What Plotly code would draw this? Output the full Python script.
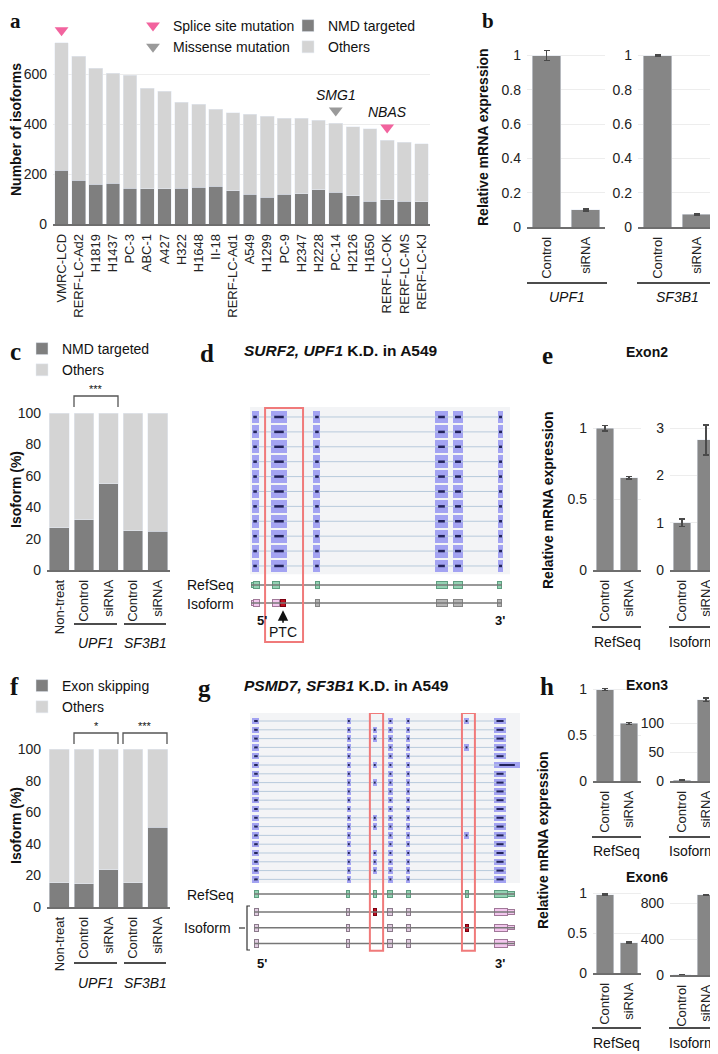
import plotly.graph_objects as go

# the page body adds an 8px margin, so the figure is drawn 8px smaller and
# all positions below are given in window pixels
OFF = 8
W, H = 718 - OFF, 1054 - OFF
SANS = "Liberation Sans, Arial, sans-serif"
SERIF = "Liberation Serif, Times New Roman, serif"

NMD_GRAY = "#7f7f7f"
OTHER_GRAY = "#d4d4d4"
BAR_GRAY = "#868686"
ERR_GRAY = "#4a4a4a"
PINK = "#f2639e"
TRI_GRAY = "#9a9a9a"
GRID = "#ededed"
AXIS = "#6e6e6e"
READ_BLUE = "#a3a3f2"
READ_DARK = "#22225a"
READ_LINE = "#b8cadc"
BOX_RED = "#f07a7a"
REF_FILL, REF_LINE = "#94d3b4", "#5e9e80"
ISO_PINK, ISO_PINK_LINE = "#f3c6ee", "#a07898"
ISO_GRAY, ISO_GRAY_LINE = "#b5b5b5", "#858585"
ISO_MAUVE, ISO_MAUVE_LINE = "#e2cde2", "#8a7a8a"
PTC_RED = "#c0101e"

# ---- panel a: isoforms per cell line
cell_lines = ["VMRC-LCD", "RERF-LC-Ad2", "H1819", "H1437", "PC-3", "ABC-1", "A427", "H322",
              "H1648", "II-18", "RERF-LC-Ad1", "A549", "H1299", "PC-9", "H2347", "H2228",
              "PC-14", "H2126", "H1650", "RERF-LC-OK", "RERF-LC-MS", "RERF-LC-KJ"]
total_counts = [725, 672, 624, 604, 595, 543, 532, 488, 480, 460, 445, 440, 431, 423, 423, 416,
                404, 389, 381, 336, 327, 321]
nmd_counts = [216, 175, 160, 163, 144, 141, 141, 144, 147, 152, 133, 119, 108, 119, 121, 137,
              128, 113, 92, 97, 92, 89]
splice_lines = ["VMRC-LCD", "RERF-LC-OK"]
splice_genes = ["UPF1", "NBAS"]
missense_lines = ["PC-14"]
missense_genes = ["SMG1"]

# ---- panel b: knock-down efficiency
treatments = ["Control", "siRNA"]
upf1_kd = [1.0, 0.10]
upf1_kd_err = [0.03, 0.006]
sf3b1_kd = [1.0, 0.075]
sf3b1_kd_err = [0.004, 0.005]

# ---- panels c, f: isoform fractions
conditions = ["Non-treat", "Control", "siRNA", "Control", "siRNA"]
nmd_pct = [27, 32, 55, 25, 24.6]
skip_pct = [15.4, 14.8, 23.6, 15.2, 50.6]

# ---- panels e, h: qPCR
exon2_refseq, exon2_refseq_err = [1.0, 0.65], [0.02, 0.008]
exon2_isoform, exon2_isoform_err = [1.0, 2.75], [0.08, 0.32]
exon3_refseq, exon3_refseq_err = [1.0, 0.63], [0.01, 0.01]
exon3_isoform, exon3_isoform_err = [1.0, 140], [0.5, 3]
exon6_refseq, exon6_refseq_err = [0.98, 0.38], [0.01, 0.01]
exon6_isoform, exon6_isoform_err = [1.0, 890], [1, 6]

# ---- panel d: SURF2 reads / models (relative position 0-100)
surf2_n_reads = 11
surf2_read_start = [0.8, 8.1, 24.6, 71.5, 78.1, 95.4]
surf2_read_end = [3.1, 14.2, 26.9, 75.8, 81.9, 97.3]
surf2_exon_start = [1.5, 8.5, 25.0, 71.9, 78.1, 95.0]
surf2_exon_end = [3.8, 11.5, 26.9, 75.8, 81.9, 96.9]
surf2_utr5 = [0.4, 1.5]
surf2_iso_kind = ["pink", "pink", "gray", "gray", "gray", "gray"]
surf2_ptc = [11.6, 13.8]

# ---- panel g: PSMD7 reads / models
psmd7_n_reads = 19
psmd7_read_start = [1.1, 36.0, 45.6, 51.4, 58.0, 79.6, 90.4]
psmd7_read_end = [3.3, 37.2, 46.8, 52.6, 59.2, 80.8, 94.8]
psmd7_exon3_reads = [1, 2, 5, 7, 11, 12, 15, 16, 17]
psmd7_exon6_reads = [0, 3, 13]
psmd7_long_read, psmd7_long_end = 5, 100
psmd7_exon_start = [1.5, 35.9, 45.9, 51.1, 58.1, 79.8, 90.4]
psmd7_exon_end = [3.3, 37.0, 47.0, 52.6, 59.3, 80.9, 95.2]
psmd7_utr3 = [95.2, 98.1]
psmd7_isoform_exons = [[0, 1, 2, 3, 4, 6], [0, 1, 3, 4, 5, 6], [0, 1, 3, 4, 6]]
psmd7_isoform_mark = [2, 5, None]

fig = go.Figure()
shapes, annotations, axes = [], [], {}


def fx(x):
    return (x - OFF) / W


def fy(y):
    return 1 - (y - OFF) / H


def set_axes(i, xcfg, ycfg, x0, x1, y0, y1):
    s = "" if i == 1 else str(i)
    xcfg.update(domain=[fx(x0), fx(x1)], anchor="y" + s, fixedrange=True, automargin=False)
    ycfg.update(domain=[fy(y1), fy(y0)], anchor="x" + s, fixedrange=True, automargin=False)
    axes["xaxis" + s] = xcfg
    axes["yaxis" + s] = ycfg


def bar_x(**kw):
    d = dict(showline=True, linecolor=AXIS, linewidth=1.5, ticks="", tickangle=-90,
             tickfont=dict(size=13, color="#222"), showgrid=False, zeroline=False,
             ticklabelstandoff=3)
    d.update(kw)
    return d


def bar_y(rng, vals, **kw):
    d = dict(range=rng, tickvals=vals, showgrid=True, gridcolor=GRID, zeroline=False,
             showline=False, ticks="", tickfont=dict(size=14, color="#222"), ticklabelstandoff=5)
    d.update(kw)
    return d


def text(s, x, y, size=14, xanchor="center", yanchor="middle", angle=0, family=SANS, color="#111"):
    annotations.append(dict(text=s, x=fx(x), y=fy(y), xref="paper", yref="paper", showarrow=False,
                            xanchor=xanchor, yanchor=yanchor, textangle=angle,
                            font=dict(size=size, family=family, color=color)))


def line(x0, y0, x1, y1, color="#111", width=1.5):
    shapes.append(dict(type="line", xref="paper", yref="paper", x0=fx(x0), x1=fx(x1),
                       y0=fy(y0), y1=fy(y1), line=dict(color=color, width=width)))


def bracket(x0, x1, y, stars):
    shapes.append(dict(type="path", xref="paper", yref="paper",
                       path=f"M {fx(x0)},{fy(y + 11)} L {fx(x0)},{fy(y)} L {fx(x1)},{fy(y)} L {fx(x1)},{fy(y + 11)}",
                       line=dict(color="#555", width=1.3)))
    text(stars, (x0 + x1) / 2, y - 7, size=11)


def expr_bars(n, values, errors):
    s = "" if n == 1 else str(n)
    fig.add_trace(go.Bar(x=treatments, y=values, width=0.74, marker_color=BAR_GRAY,
                         error_y=dict(type="data", array=errors, color=ERR_GRAY, thickness=1.5, width=3),
                         xaxis="x" + s, yaxis="y" + s, showlegend=False, hoverinfo="skip"))


def hbars(n, starts, ends, rows, height, colors, lines):
    s = str(n)
    fig.add_trace(go.Bar(orientation="h", base=starts, x=[e - b for b, e in zip(starts, ends)], y=rows,
                         width=height, marker=dict(color=colors, line=dict(color=lines, width=1)),
                         xaxis="x" + s, yaxis="y" + s, showlegend=False, hoverinfo="skip"))


def segments(n, x0s, x1s, rows, color, width):
    xs, ys = [], []
    for a, b, r in zip(x0s, x1s, rows):
        xs += [a, b, None]
        ys += [r, r, None]
    fig.add_trace(go.Scatter(x=xs, y=ys, mode="lines", line=dict(color=color, width=width),
                             xaxis="x" + str(n), yaxis="y" + str(n), showlegend=False, hoverinfo="skip"))


def reads(n, blocks, height, dash_w):
    rows = sorted(set(b[0] for b in blocks))
    first = min(b[1] for b in blocks)
    last = max(b[2] for b in blocks if b[2] < 99)
    segments(n, [first] * len(rows), [last] * len(rows), rows, READ_LINE, 1)
    hbars(n, [b[1] for b in blocks], [b[2] for b in blocks], [b[0] for b in blocks], height,
          READ_BLUE, READ_BLUE)
    segments(n, [b[1] + 0.2 * (b[2] - b[1]) for b in blocks], [b[2] - 0.2 * (b[2] - b[1]) for b in blocks],
             [b[0] for b in blocks], READ_DARK, dash_w)


# ================= a =================
others = [t - m for t, m in zip(total_counts, nmd_counts)]
fig.add_trace(go.Bar(x=cell_lines, y=nmd_counts, name="NMD targeted", marker_color=NMD_GRAY, width=0.8,
                     legend="legend2", xaxis="x", yaxis="y", hoverinfo="skip"))
fig.add_trace(go.Bar(x=cell_lines, y=others, name="Others", marker_color=OTHER_GRAY, width=0.8,
                     legend="legend2", xaxis="x", yaxis="y", hoverinfo="skip"))
tot = dict(zip(cell_lines, total_counts))
fig.add_trace(go.Scatter(x=splice_lines, y=[tot[c] + 50 for c in splice_lines], mode="markers",
                         marker=dict(symbol="triangle-down", size=12, color=PINK),
                         name="Splice site mutation", legend="legend", cliponaxis=False))
fig.add_trace(go.Scatter(x=missense_lines, y=[tot[c] + 50 for c in missense_lines], mode="markers",
                         marker=dict(symbol="triangle-down", size=12, color=TRI_GRAY),
                         name="Missense mutation", legend="legend", cliponaxis=False))
for c, g in list(zip(splice_lines, splice_genes)) + list(zip(missense_lines, missense_genes)):
    annotations.append(dict(text=f"<i>{g}</i>", x=c, y=tot[c] + 112, xref="x", yref="y", showarrow=False,
                            font=dict(size=14, family=SANS, color="#111")))
set_axes(1, bar_x(type="category", range=[-0.5, len(cell_lines) - 0.5]),
         bar_y([0, 800], [0, 200, 400, 600]), 53, 430, 24, 224)
text("<b>a</b>", 8, 21, size=21, xanchor="left", family=SERIF)
text("<b>Number of isoforms</b>", 16, 130, angle=-90)

# ================= b =================
expr_bars(2, upf1_kd, upf1_kd_err)
expr_bars(3, sf3b1_kd, sf3b1_kd_err)
bt = [0, 0.2, 0.4, 0.6, 0.8, 1]
set_axes(2, bar_x(), bar_y([0, 1.05], bt), 527, 605, 47, 227)
set_axes(3, bar_x(), bar_y([0, 1.05], bt), 638, 716, 47, 227)
text("<b>b</b>", 480, 21, size=21, xanchor="left", family=SERIF)
text("<b>Relative mRNA expression</b>", 483, 137, angle=-90)
line(527, 283, 607, 283)
line(637, 283, 718, 283)
text("<i>UPF1</i>", 567, 297)
text("<i>SF3B1</i>", 677, 297)

# ================= c =================
idx = list(range(len(conditions)))
fig.add_trace(go.Bar(x=idx, y=nmd_pct, name="NMD targeted", marker_color=NMD_GRAY, width=0.8,
                     legend="legend3", xaxis="x4", yaxis="y4", hoverinfo="skip"))
fig.add_trace(go.Bar(x=idx, y=[100 - v for v in nmd_pct], name="Others", marker_color=OTHER_GRAY, width=0.8,
                     legend="legend3", xaxis="x4", yaxis="y4", hoverinfo="skip"))
set_axes(4, bar_x(tickvals=idx, ticktext=conditions, range=[-0.5, 4.5]),
         bar_y([0, 100], [0, 20, 40, 60, 80, 100], showgrid=False), 47, 170, 413, 570)
text("<b>c</b>", 8, 352, size=25, xanchor="left", family=SERIF)
text("<b>Isoform (%)</b>", 16, 490, angle=-90)
bracket(74, 118, 396, "***")
line(74, 624, 117, 624)
line(124, 624, 166, 624)
text("<i>UPF1</i>", 96, 643)
text("<i>SF3B1</i>", 145, 643)

# ================= d =================
blocks = [(r, s, e) for r in range(surf2_n_reads) for s, e in zip(surf2_read_start, surf2_read_end)]
shapes.append(dict(type="rect", xref="x5", yref="y5", x0=0, x1=100, y0=-0.67, y1=10.55,
                   fillcolor="#f3f4f6", line=dict(width=0), layer="below"))
reads(5, blocks, 0.8, 2.5)
D_REF, D_ISO = 11.28, 12.48
segments(5, [surf2_utr5[0]] * 2, [surf2_exon_end[-1]] * 2, [D_REF, D_ISO], "#777", 1.5)
hbars(5, [surf2_utr5[0]], [surf2_utr5[1]], [D_REF], 0.3, REF_FILL, REF_LINE)
hbars(5, surf2_exon_start, surf2_exon_end, [D_REF] * 6, 0.5, REF_FILL, REF_LINE)
iso_fill = [ISO_PINK if k == "pink" else ISO_GRAY for k in surf2_iso_kind]
iso_line = [ISO_PINK_LINE if k == "pink" else ISO_GRAY_LINE for k in surf2_iso_kind]
hbars(5, [surf2_utr5[0]], [surf2_utr5[1]], [D_ISO], 0.3, ISO_PINK, ISO_PINK_LINE)
hbars(5, surf2_exon_start, surf2_exon_end, [D_ISO] * 6, 0.5, iso_fill, iso_line)
hbars(5, [surf2_ptc[0]], [surf2_ptc[1]], [D_ISO], 0.5, PTC_RED, "#7a0010")
shapes.append(dict(type="rect", xref="x5", yref="y5", x0=5.8, x1=20.4, y0=-0.6, y1=15.1,
                   line=dict(color=BOX_RED, width=2)))
annotations.append(dict(text="PTC", x=sum(surf2_ptc) / 2, y=D_ISO + 0.5, xref="x5", yref="y5",
                        showarrow=True, ax=0, ay=22, arrowhead=2, arrowsize=1.3, arrowwidth=1.6,
                        arrowcolor="#111", font=dict(size=14, family=SANS, color="#111")))
set_axes(5, dict(range=[0, 100], visible=False), dict(range=[15.64, -0.67], visible=False), 250, 510, 407, 650)
text("<b>d</b>", 198, 354, size=25, xanchor="left", family=SERIF)
text("<b><i>SURF2, UPF1</i> K.D. in A549</b>", 242, 350, size=15.5, xanchor="left")
text("RefSeq", 236, 585, xanchor="right")
text("Isoform", 236, 604, xanchor="right")
text("<b>5'</b>", 262, 620, size=13)
text("<b>3'</b>", 500, 620, size=13)

# ================= e =================
expr_bars(6, exon2_refseq, exon2_refseq_err)
expr_bars(7, exon2_isoform, exon2_isoform_err)
set_axes(6, bar_x(), bar_y([0, 1.05], [0, 0.5, 1]), 593, 641, 421, 570)
set_axes(7, bar_x(), bar_y([0, 3.15], [0, 1, 2, 3]), 670, 718, 421, 570)
text("<b>e</b>", 540, 356, size=25, xanchor="left", family=SERIF)
text("<b>Exon2</b>", 647, 352)
text("<b>Relative mRNA expression</b>", 548, 500, angle=-90)
line(592, 627, 641, 627)
line(669, 627, 718, 627)
text("RefSeq", 617, 642)
text("Isoform", 692, 642)

# ================= f =================
fig.add_trace(go.Bar(x=idx, y=skip_pct, name="Exon skipping", marker_color=NMD_GRAY, width=0.8,
                     legend="legend4", xaxis="x8", yaxis="y8", hoverinfo="skip"))
fig.add_trace(go.Bar(x=idx, y=[100 - v for v in skip_pct], name="Others", marker_color=OTHER_GRAY, width=0.8,
                     legend="legend4", xaxis="x8", yaxis="y8", hoverinfo="skip"))
set_axes(8, bar_x(tickvals=idx, ticktext=conditions, range=[-0.5, 4.5]),
         bar_y([0, 100], [0, 20, 40, 60, 80, 100], showgrid=False), 47, 170, 749, 907)
text("<b>f</b>", 8, 686, size=25, xanchor="left", family=SERIF)
text("<b>Isoform (%)</b>", 16, 826, angle=-90)
bracket(74, 118, 733, "*")
bracket(123, 167, 733, "***")
line(74, 963, 117, 963)
line(124, 963, 166, 963)
text("<i>UPF1</i>", 96, 983)
text("<i>SF3B1</i>", 145, 983)

# ================= g =================
gblocks = []
for r in range(psmd7_n_reads):
    for k, (s, e) in enumerate(zip(psmd7_read_start, psmd7_read_end)):
        if k == 2 and r not in psmd7_exon3_reads:
            continue
        if k == 5 and r not in psmd7_exon6_reads:
            continue
        if k == 6 and r == psmd7_long_read:
            e = psmd7_long_end
        gblocks.append((r, s, e))
shapes.append(dict(type="rect", xref="x9", yref="y9", x0=0, x1=100, y0=-0.9, y1=18.4,
                   fillcolor="#f3f4f6", line=dict(width=0), layer="below"))
reads(9, gblocks, 0.62, 2)
G_REF, G_ISO = 19.66, [21.7, 23.5, 25.3]
all_rows = [G_REF] + G_ISO
segments(9, [psmd7_exon_start[0]] * 4, [psmd7_utr3[1]] * 4, all_rows, "#777", 1.5)
hbars(9, psmd7_exon_start, psmd7_exon_end, [G_REF] * 7, 0.85, REF_FILL, REF_LINE)
hbars(9, [psmd7_utr3[0]], [psmd7_utr3[1]], [G_REF], 0.5, REF_FILL, REF_LINE)
for row, ex, mark in zip(G_ISO, psmd7_isoform_exons, psmd7_isoform_mark):
    fill = [PTC_RED if k == mark else (ISO_PINK if k == 6 else ISO_MAUVE) for k in ex]
    edge = ["#7a0010" if k == mark else (ISO_PINK_LINE if k == 6 else ISO_MAUVE_LINE) for k in ex]
    hbars(9, [psmd7_exon_start[k] for k in ex], [psmd7_exon_end[k] for k in ex], [row] * len(ex), 0.85, fill, edge)
    hbars(9, [psmd7_utr3[0]], [psmd7_utr3[1]], [row], 0.5, ISO_PINK, ISO_PINK_LINE)
shapes.append(dict(type="rect", xref="x9", yref="y9", x0=44.4, x1=49.3, y0=-0.9, y1=26.1,
                   line=dict(color=BOX_RED, width=2)))
shapes.append(dict(type="rect", xref="x9", yref="y9", x0=78.5, x1=83.3, y0=-0.9, y1=26.1,
                   line=dict(color=BOX_RED, width=2)))
set_axes(9, dict(range=[0, 100], visible=False), dict(range=[27.73, -0.91], visible=False), 250, 520, 713, 965)
text("<b>g</b>", 196, 688, size=25, xanchor="left", family=SERIF)
text("<b><i>PSMD7, SF3B1</i> K.D. in A549</b>", 242, 685, size=15.5, xanchor="left")
text("RefSeq", 236, 895, xanchor="right")
text("Isoform", 233, 928, xanchor="right")
shapes.append(dict(type="path", xref="paper", yref="paper",
                   path=f"M {fx(250)},{fy(906)} L {fx(247)},{fy(906)} L {fx(247)},{fy(950)} L {fx(250)},{fy(950)}",
                   line=dict(color="#333", width=1.2)))
line(239, 928, 245, 928, color="#333", width=1.2)
text("<b>5'</b>", 262, 963, size=13)
text("<b>3'</b>", 500, 963, size=13)

# ================= h =================
expr_bars(10, exon3_refseq, exon3_refseq_err)
expr_bars(11, exon3_isoform, exon3_isoform_err)
expr_bars(12, exon6_refseq, exon6_refseq_err)
expr_bars(13, exon6_isoform, exon6_isoform_err)
set_axes(10, bar_x(), bar_y([0, 1.05], [0, 0.5, 1]), 593, 641, 685, 781)
set_axes(11, bar_x(), bar_y([0, 150], [0, 50, 100]), 670, 718, 694, 781)
set_axes(12, bar_x(), bar_y([0, 1.05], [0, 0.5, 1]), 593, 641, 889, 973)
set_axes(13, bar_x(), bar_y([0, 1000], [0, 400, 800]), 670, 718, 885, 975)
text("<b>h</b>", 538, 686, size=25, xanchor="left", family=SERIF)
text("<b>Exon3</b>", 647, 685)
text("<b>Exon6</b>", 647, 877)
text("<b>Relative mRNA expression</b>", 543, 840, angle=-90)
line(592, 837, 641, 837)
line(669, 837, 718, 837)
text("RefSeq", 616, 851)
text("Isoform", 692, 851)
line(592, 1028, 641, 1028)
line(669, 1028, 718, 1028)
text("RefSeq", 616, 1043)
text("Isoform", 692, 1043)

leg = dict(bgcolor="rgba(0,0,0,0)", font=dict(size=14, family=SANS, color="#111"), traceorder="normal",
           itemwidth=30, tracegroupgap=0, xanchor="left", yanchor="top", orientation="v")
fig.update_layout(
    width=W, height=H,
    margin=dict(l=0, r=0, t=0, b=0),
    paper_bgcolor="white", plot_bgcolor="white",
    barmode="stack",
    font=dict(family=SANS, size=14, color="#111"),
    showlegend=True,
    legend=dict(leg, x=fx(133), y=fy(10)),
    legend2=dict(leg, x=fx(288), y=fy(10)),
    legend3=dict(leg, x=fx(22), y=fy(333)),
    legend4=dict(leg, x=fx(22), y=fy(670)),
    shapes=shapes,
    annotations=annotations,
    **axes,
)

fig.write_html("out.html")
